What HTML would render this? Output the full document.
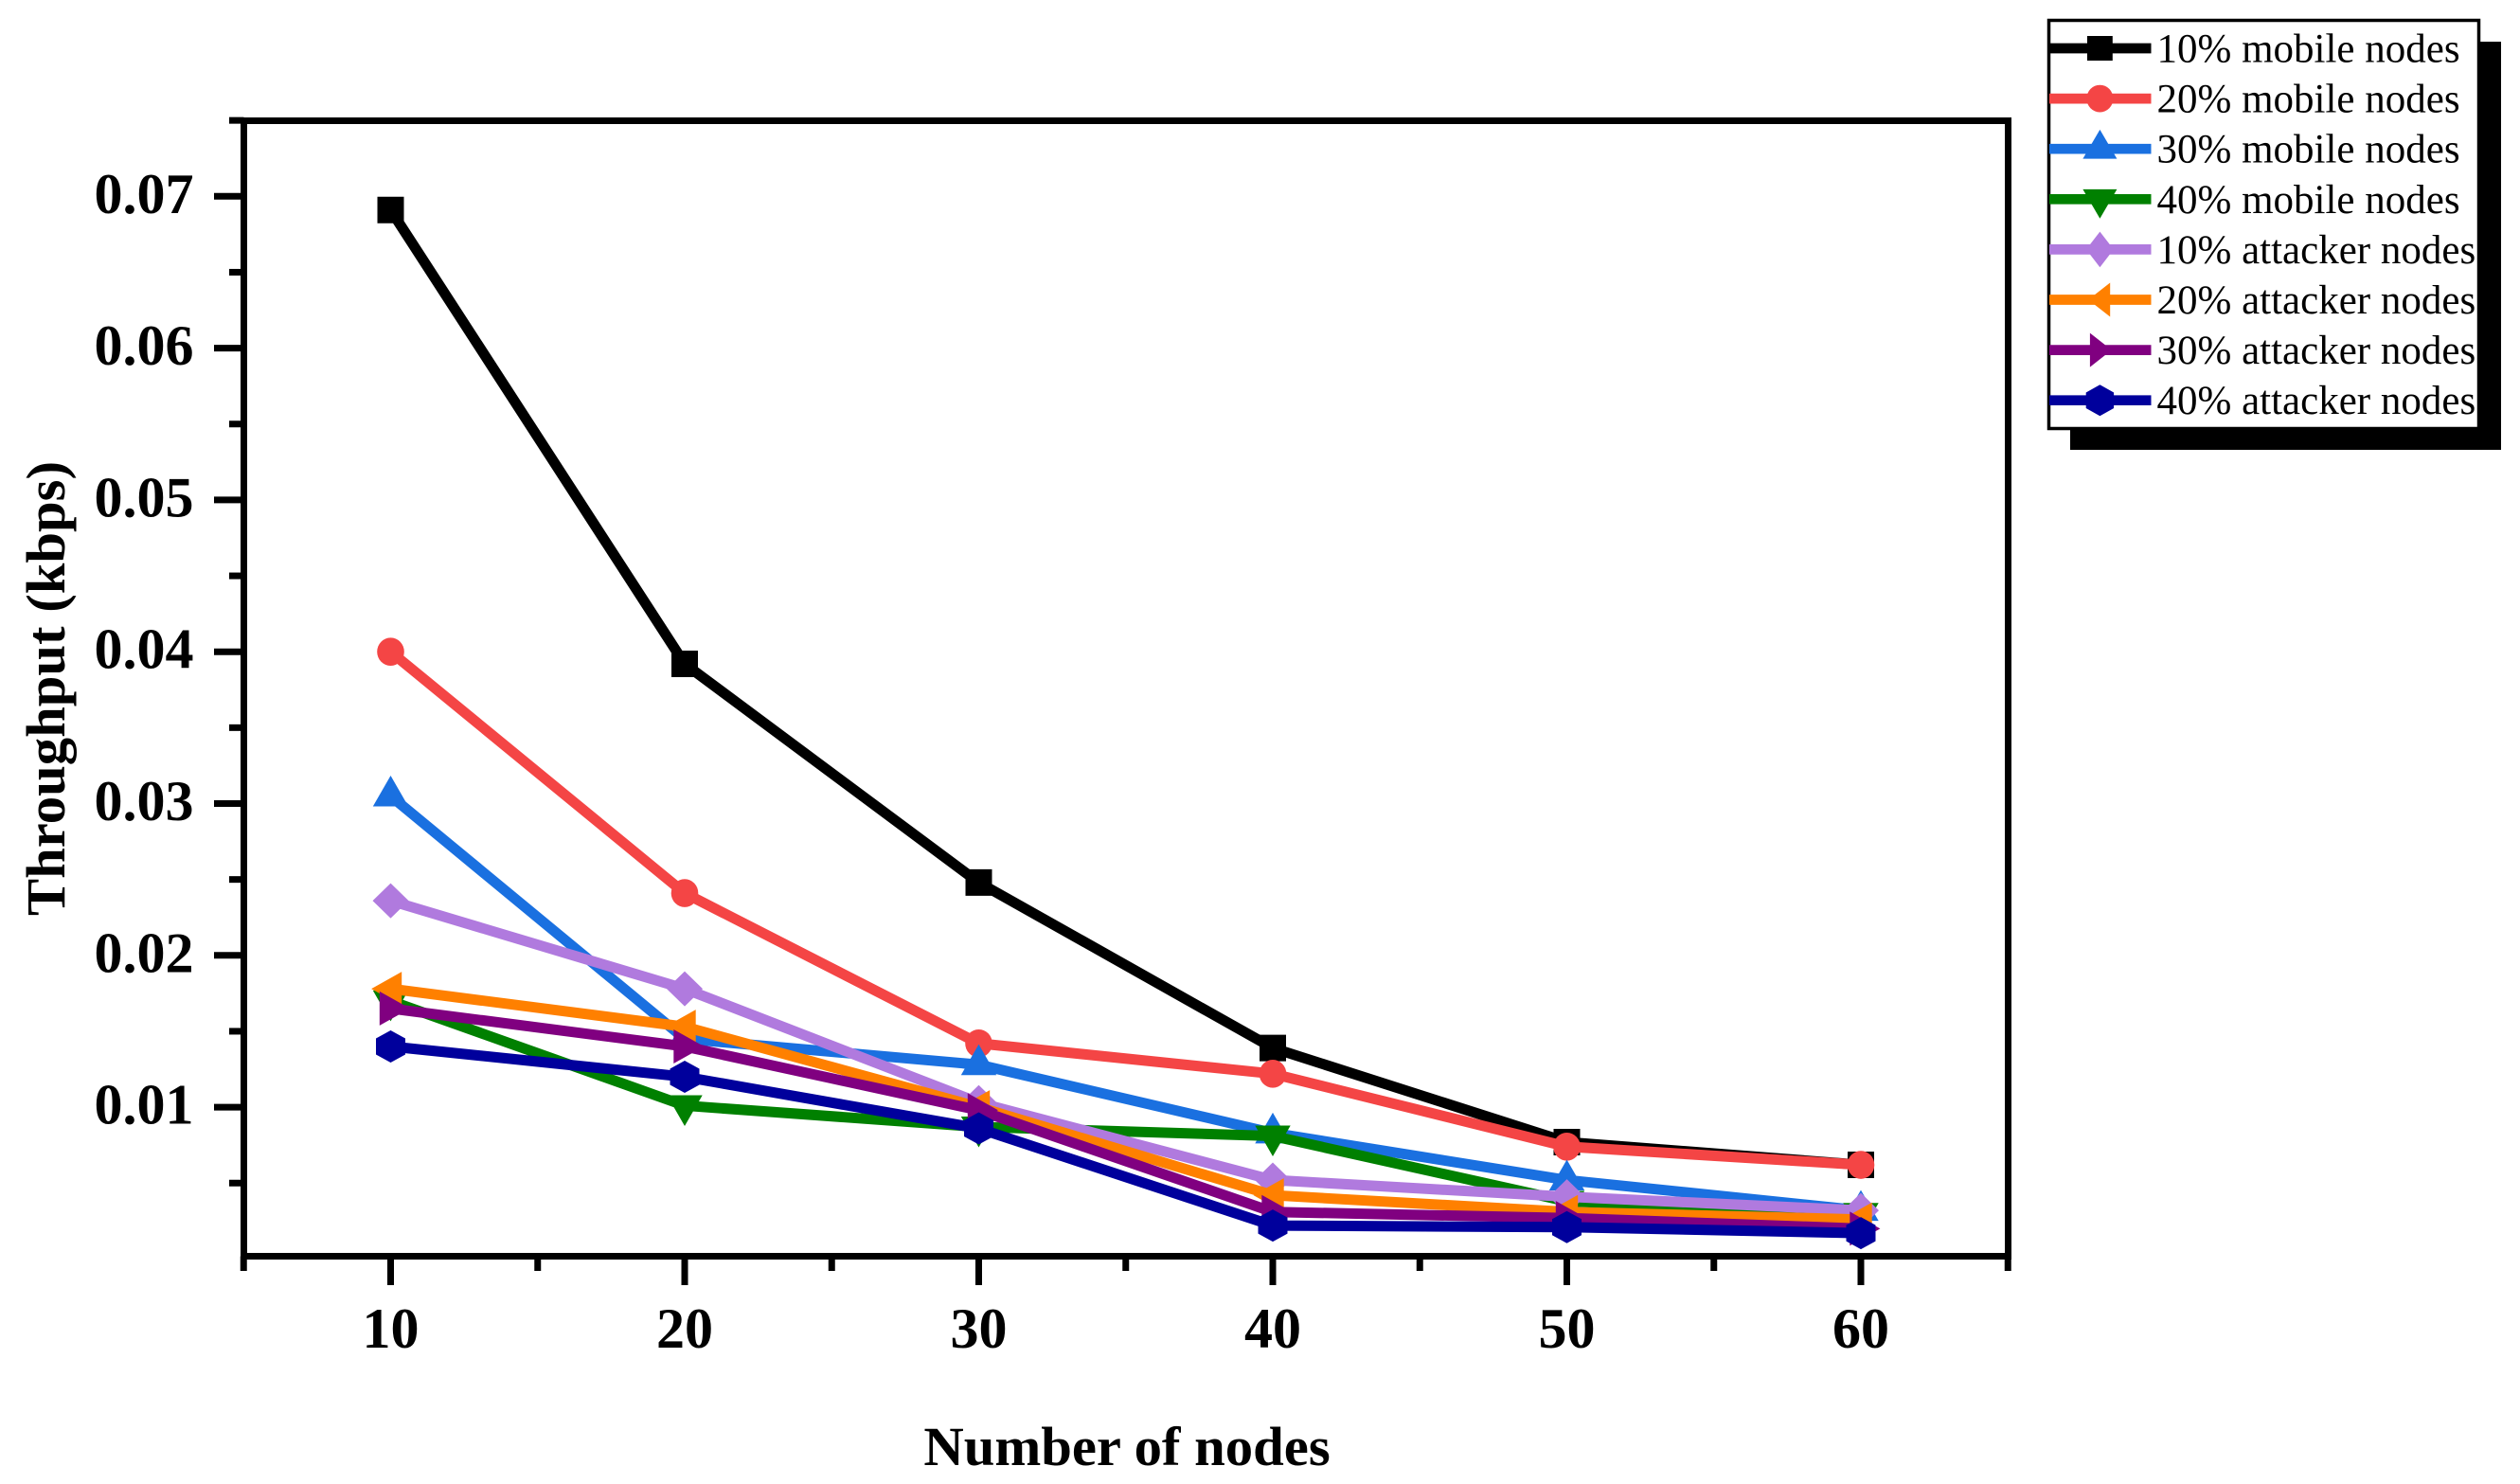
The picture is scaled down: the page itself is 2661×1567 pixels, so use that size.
<!DOCTYPE html>
<html lang="en">
<head>
<meta charset="utf-8">
<title>Throughput vs number of nodes</title>
<style>
html,body{margin:0;padding:0;background:#fff;width:2661px;height:1567px;overflow:hidden}
svg{display:block}
text{font-family:"Liberation Serif",serif;fill:#000}
.bold{font-weight:bold;font-size:58.7px}
.tick{font-weight:bold;font-size:60px}
.leg{font-size:43px}
</style>
</head>
<body>
<svg id="chart" xmlns="http://www.w3.org/2000/svg" width="2661" height="1567" viewBox="0 0 2661 1567">
  <rect x="0" y="0" width="2661" height="1567" fill="#fff"/>
  <g id="axes"></g>
  <g id="series"></g>
  <text class="bold" x="1190" y="1547" text-anchor="middle">Number of nodes</text>
  <text class="bold" x="0" y="0" text-anchor="middle" transform="translate(68 727) rotate(-90)">Throughput (kbps)</text>
  <g id="legend">
    <rect x="2186" y="44" width="455" height="431" fill="#000"/>
    <rect x="2163.5" y="21.5" width="454" height="431" fill="#fff" stroke="#000" stroke-width="3.5"/>
  </g>
</svg>
<script>
const categories = [10, 20, 30, 40, 50, 60];
const xMajorTicks = [10, 20, 30, 40, 50, 60];
const xMinorTicks = [5, 15, 25, 35, 45, 55, 65];
const yMajorTicks = [0.01, 0.02, 0.03, 0.04, 0.05, 0.06, 0.07];
const yMinorTicks = [0.005, 0.015, 0.025, 0.035, 0.045, 0.055, 0.065, 0.075];
const seriesNames = ["10% mobile nodes", "20% mobile nodes", "30% mobile nodes", "40% mobile nodes", "10% attacker nodes", "20% attacker nodes", "30% attacker nodes", "40% attacker nodes"];
const seriesColors = ["#000000", "#f44545", "#1a70e0", "#008000", "#b07ade", "#ff8000", "#800080", "#00009c"];
const seriesMarkers = ["square", "circle", "up", "down", "diamond", "left", "right", "hexagon"];
const mobile10 = [0.0691, 0.0392, 0.0248, 0.0139, 0.0077, 0.0062];
const mobile20 = [0.04, 0.0241, 0.0142, 0.0122, 0.0074, 0.0062];
const mobile30 = [0.0305, 0.0145, 0.0128, 0.0083, 0.0052, 0.0032];
const mobile40 = [0.017, 0.0101, 0.0087, 0.0081, 0.0038, 0.003];
const attacker10 = [0.0236, 0.0178, 0.0103, 0.0052, 0.0041, 0.0032];
const attacker20 = [0.0178, 0.0153, 0.01, 0.0042, 0.0031, 0.0026];
const attacker30 = [0.0165, 0.014, 0.0098, 0.0031, 0.0027, 0.002];
const attacker40 = [0.014, 0.012, 0.0086, 0.0022, 0.0021, 0.0017];
const seriesValues = [mobile10, mobile20, mobile30, mobile40, attacker10, attacker20, attacker30, attacker40];

const NS = 'http://www.w3.org/2000/svg';
function xScale(v) { return 412.5 + (v - 10) * 31.05; }
function yScale(v) { return 207.3 + (0.07 - v) * 16030; }

// marker extents relative to centre: [left, right, top, bottom]
const plotExtents = {
  square: [-14, 14, -14, 14], circle: [-14.3, 14.3, -14.8, 14.8],
  up: [-18.7, 18.7, -21.5, 11], down: [-18.7, 18.7, -11, 21.5],
  diamond: [-19, 19, -18.5, 18.5], left: [-20.4, 11.7, -18, 18],
  right: [-11.7, 20.4, -18, 18], hexagon: [-15.5, 15.5, -17, 17]
};
const legendExtents = {
  square: [-13.4, 13.4, -13, 13], circle: [-14, 14, -14.4, 14.4],
  up: [-18, 18, -20.3, 10.4], down: [-18, 18, -10.4, 20.5],
  diamond: [-14.5, 14.5, -18.8, 18.8], left: [-12.2, 10.8, -18, 18],
  right: [-10.5, 12.4, -18, 18], hexagon: [-14.7, 14.7, -16.5, 16.5]
};

function markerNode(kind, cx, cy, ext, color) {
  const x0 = cx + ext[0], x1 = cx + ext[1], y0 = cy + ext[2], y1 = cy + ext[3];
  const mx = (x0 + x1) / 2, my = (y0 + y1) / 2, q = (y1 - y0) / 4;
  let node;
  if (kind === 'circle') {
    node = document.createElementNS(NS, 'ellipse');
    node.setAttribute('cx', mx);
    node.setAttribute('cy', my);
    node.setAttribute('rx', (x1 - x0) / 2);
    node.setAttribute('ry', (y1 - y0) / 2);
  } else {
    let pts;
    if (kind === 'square') pts = [[x0, y0], [x1, y0], [x1, y1], [x0, y1]];
    if (kind === 'up') pts = [[cx, y0], [x1, y1], [x0, y1]];
    if (kind === 'down') pts = [[x0, y0], [x1, y0], [cx, y1]];
    if (kind === 'left') pts = [[x0, cy], [x1, y0], [x1, y1]];
    if (kind === 'right') pts = [[x1, cy], [x0, y0], [x0, y1]];
    if (kind === 'diamond') pts = [[cx, y0], [x1, cy], [cx, y1], [x0, cy]];
    if (kind === 'hexagon') pts = [[mx, y0], [x1, y0 + q], [x1, y1 - q], [mx, y1], [x0, y1 - q], [x0, y0 + q]];
    node = document.createElementNS(NS, 'polygon');
    node.setAttribute('points', pts.map(p => p.join(',')).join(' '));
  }
  node.setAttribute('fill', color);
  return node;
}

function lineNode(x1, y1, x2, y2, width, color) {
  const l = document.createElementNS(NS, 'line');
  l.setAttribute('x1', x1);
  l.setAttribute('y1', y1);
  l.setAttribute('x2', x2);
  l.setAttribute('y2', y2);
  l.setAttribute('stroke', color);
  l.setAttribute('stroke-width', width);
  return l;
}

function textNode(content, x, y, anchor, cls) {
  const t = document.createElementNS(NS, 'text');
  t.setAttribute('x', x);
  t.setAttribute('y', y);
  t.setAttribute('text-anchor', anchor);
  t.setAttribute('class', cls);
  t.textContent = content;
  return t;
}

const axes = document.getElementById('axes');
const AXIS_L = 257.5, AXIS_R = 2120.5, AXIS_T = 127.5, AXIS_B = 1326.5, TW = 7;

const spineTop = lineNode(AXIS_L - 3.5, AXIS_T, AXIS_R + 3.5, AXIS_T, TW, '#000');


axes.appendChild(spineTop);
const spineBottom = lineNode(AXIS_L - 3.5, AXIS_B, AXIS_R + 3.5, AXIS_B, TW, '#000');


axes.appendChild(spineBottom);
const spineLeft = lineNode(AXIS_L, AXIS_T, AXIS_L, AXIS_B + 3.5, TW, '#000');


axes.appendChild(spineLeft);
const spineRight = lineNode(AXIS_R, AXIS_T, AXIS_R, AXIS_B + 3.5, TW, '#000');


axes.appendChild(spineRight);

xMajorTicks.forEach(v => {
  const t = lineNode(xScale(v), AXIS_B, xScale(v), 1357, TW, '#000');
  
  
  axes.appendChild(t);
  const lab = textNode(String(v), xScale(v), 1423, 'middle', 'tick');
  
  
  axes.appendChild(lab);
});
xMinorTicks.forEach(v => {
  const t = lineNode(xScale(v), AXIS_B, xScale(v), 1342, TW, '#000');
  
  
  axes.appendChild(t);
});
yMajorTicks.forEach(v => {
  const t = lineNode(226, yScale(v), AXIS_L, yScale(v), TW, '#000');
  
  
  axes.appendChild(t);
  const lab = textNode(v.toFixed(2), 204.5, yScale(v) + 17.5, 'end', 'tick');
  
  
  axes.appendChild(lab);
});
yMinorTicks.forEach(v => {
  const t = lineNode(242, yScale(v), AXIS_L, yScale(v), TW, '#000');
  
  
  axes.appendChild(t);
});

const seriesGroup = document.getElementById('series');
seriesValues.forEach((vals, i) => {
  const g = document.createElementNS(NS, 'g');
  
  
  const path = document.createElementNS(NS, 'polyline');
  path.setAttribute('points', vals.map((v, k) => xScale(categories[k]) + ',' + yScale(v)).join(' '));
  path.setAttribute('fill', 'none');
  path.setAttribute('stroke', seriesColors[i]);
  path.setAttribute('stroke-width', '11');
  path.setAttribute('stroke-linejoin', 'miter');
  
  
  g.appendChild(path);
  vals.forEach((v, k) => {
    const m = markerNode(seriesMarkers[i], xScale(categories[k]), yScale(v), plotExtents[seriesMarkers[i]], seriesColors[i]);
    
    
    g.appendChild(m);
  });
  seriesGroup.appendChild(g);
});

const legend = document.getElementById('legend');
seriesNames.forEach((name, i) => {
  const cy = 51 + i * 53.1;
  const g = document.createElementNS(NS, 'g');
  
  
  const l = lineNode(2164, cy, 2271.5, cy, 10.7, seriesColors[i]);
  
  
  g.appendChild(l);
  const m = markerNode(seriesMarkers[i], 2217.4, cy, legendExtents[seriesMarkers[i]], seriesColors[i]);
  
  
  g.appendChild(m);
  const t = textNode(name, 2277.5, cy + 14.5, 'start', 'leg');
  
  
  g.appendChild(t);
  legend.appendChild(g);
});
</script>
</body>
</html>
